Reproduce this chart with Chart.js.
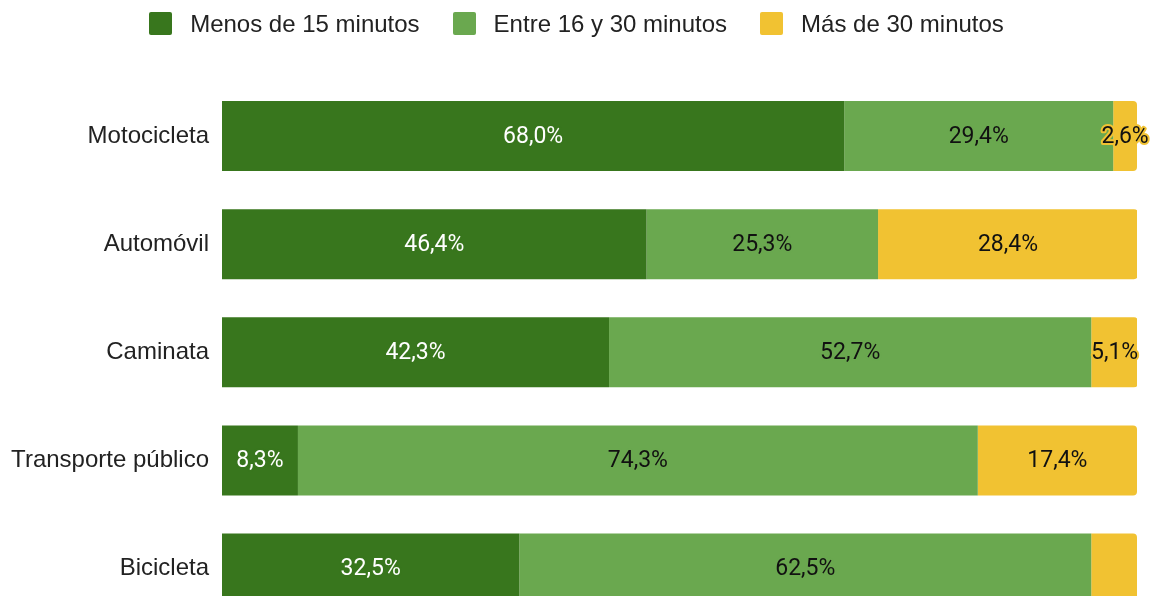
<!DOCTYPE html>
<html lang="es">
<head>
  <meta charset="UTF-8">
  <title>Tiempo de viaje por modo de transporte</title>
  <script src="https://cdn.jsdelivr.net/npm/chart.js"></script>
  <style>
    html, body {
      margin: 0;
      padding: 0;
      background: #fff;
      overflow: hidden;
    }
    .wrap {
      position: relative;
      width: 1153px;
      height: 642px;
    }
    .legend {
      position: absolute;
      top: 0;
      left: 0;
      width: 1153px;
      height: 47px;
      display: flex;
      justify-content: center;
      align-items: center;
      gap: 33px;
      font-family: "Liberation Sans", Arial, sans-serif;
      font-size: 24px;
      color: #222;
    }
    .legend span.item {
      display: flex;
      align-items: center;
    }
    .legend i {
      display: inline-block;
      width: 23px;
      height: 23px;
      border-radius: 2px;
      margin-right: 18px;
    }
  </style>
</head>
<body>
  <div class="wrap">
    <div class="legend" id="legend"></div>
    <canvas id="chart" width="1153" height="642"></canvas>
  </div>

  <script>
    const categorias = ['Motocicleta', 'Automóvil', 'Caminata', 'Transporte público', 'Bicicleta'];
    const series = ['Menos de 15 minutos', 'Entre 16 y 30 minutos', 'Más de 30 minutos'];
    const menos15 = [68.0, 46.4, 42.3, 8.3, 32.5];
    const entre16y30 = [29.4, 25.3, 52.7, 74.3, 62.5];
    const mas30 = [2.6, 28.4, 5.1, 17.4, 5.0];
    const colores = ['#38761d', '#6aa84f', '#f1c232'];
    const coloresTexto = ['#ffffff', '#111111', '#111111'];
    // etiquetas que no se muestran: [serie, categoría]
    const sinEtiqueta = [[2, 4]];

    const legend = document.getElementById('legend');
    series.forEach((s, i) => {
      const item = document.createElement('span');
      item.className = 'item';
      item.innerHTML = `<i style="background:${colores[i]}"></i>${s}`;
      legend.appendChild(item);
    });

    const fmt = v => v.toFixed(1).replace('.', ',') + '%';

    const etiquetas = {
      id: 'etiquetas',
      afterDatasetsDraw(chart) {
        const ctx = chart.ctx;
        ctx.save();
        ctx.font = '23px Roboto, sans-serif';
        ctx.textAlign = 'center';
        ctx.textBaseline = 'middle';
        ctx.lineJoin = 'round';
        chart.data.datasets.forEach((ds, d) => {
          chart.getDatasetMeta(d).data.forEach((bar, i) => {
            if (sinEtiqueta.some(([a, b]) => a === d && b === i)) return;
            const x = (bar.x + bar.base) / 2;
            const y = bar.y + 1;
            const txt = fmt(ds.data[i]);
            ctx.lineWidth = 4;
            ctx.strokeStyle = colores[d];
            ctx.strokeText(txt, x, y);
            ctx.fillStyle = coloresTexto[d];
            ctx.fillText(txt, x, y);
          });
        });
        ctx.restore();
      }
    };

    new Chart(document.getElementById('chart'), {
      type: 'bar',
      data: {
        labels: categorias,
        datasets: [
          { label: series[0], data: menos15, backgroundColor: colores[0] },
          { label: series[1], data: entre16y30, backgroundColor: colores[1] },
          {
            label: series[2], data: mas30, backgroundColor: colores[2],
            borderRadius: { topRight: 4, bottomRight: 4 }, borderSkipped: false
          }
        ]
      },
      options: {
        indexAxis: 'y',
        responsive: false,
        animation: false,
        layout: { padding: { top: 82, bottom: 7, right: 16, left: 0 } },
        datasets: {
          bar: { barPercentage: 0.647, categoryPercentage: 1 }
        },
        scales: {
          x: {
            stacked: true,
            min: 0,
            max: 100,
            display: false
          },
          y: {
            stacked: true,
            grid: { display: false },
            border: { display: false },
            ticks: {
              padding: 5,
              color: '#222',
              font: { family: '"Liberation Sans", Arial, sans-serif', size: 24 }
            },
            afterFit(scale) { scale.width = 222; }
          }
        },
        plugins: {
          legend: { display: false },
          tooltip: { enabled: false }
        }
      },
      plugins: [etiquetas]
    });
  </script>
</body>
</html>
